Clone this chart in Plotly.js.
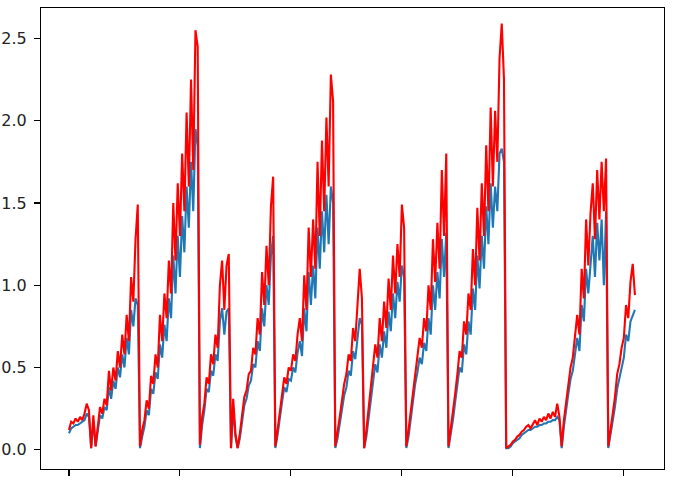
<!DOCTYPE html>
<html>
<head>
<meta charset="utf-8">
<script src="https://cdn.plot.ly/plotly-3.0.1.min.js"></script>
<style>html,body{margin:0;padding:0;background:#fff;}#chart{width:680px;height:480px;}</style>
</head>
<body>
<div id="chart"></div>
<script>
// Series values, one per sample (sample index is the x value)
const blueSeries = [
  // 0-31
  0.10,0.13,0.14,0.15,0.15,0.16,0.17,0.18,0.22,0.20,
  0.01,0.17,0.02,0.11,0.21,0.19,0.26,0.24,0.38,0.31,
  0.42,0.37,0.50,0.44,0.58,0.50,0.68,0.58,0.85,0.75,
  0.92,0.88,
  // 32-58
  0.01,0.08,0.14,0.24,0.21,0.37,0.34,0.47,0.43,0.64,
  0.56,0.76,0.66,0.92,0.80,1.18,0.95,1.30,1.05,1.42,
  1.20,1.60,1.35,1.75,1.45,1.95,1.85,
  // 59-75
  0.01,0.15,0.24,0.37,0.35,0.48,0.45,0.58,0.54,0.78,0.86,0.70,0.84,0.86,
  0.01,0.25,0.08,
  // 76-92
  0.01,0.07,0.18,0.27,0.31,0.39,0.42,0.52,0.50,0.66,0.60,0.86,0.75,1.00,0.88,1.18,1.30,
  // 93-119
  0.01,0.09,0.20,0.29,0.38,0.35,0.43,0.42,0.50,0.47,0.59,0.66,0.57,0.86,0.72,1.08,0.88,1.12,0.92,1.35,
  1.10,1.45,1.20,1.55,1.25,1.60,1.50,
  // 120-132
  0.01,0.07,0.16,0.25,0.33,0.38,0.48,0.45,0.60,0.55,0.70,0.80,0.76,
  // 133-151
  0.01,0.08,0.20,0.31,0.41,0.52,0.47,0.64,0.56,0.72,0.62,0.84,0.72,0.95,0.80,1.02,0.90,1.12,1.05,
  // 152-170
  0.01,0.08,0.19,0.30,0.40,0.47,0.56,0.52,0.65,0.60,0.80,0.70,1.00,0.85,1.08,0.92,1.28,1.05,1.32,
  // 171-196
  0.01,0.09,0.18,0.29,0.39,0.50,0.47,0.64,0.58,0.78,0.70,0.98,0.85,1.18,0.98,1.30,1.10,1.48,1.25,1.62,
  1.35,1.60,1.45,1.80,1.83,1.75,
  // 197-221
  0.01,0.01,0.02,0.04,0.05,0.06,0.07,0.09,0.10,0.11,0.12,0.12,0.13,0.14,0.14,0.15,0.15,0.16,0.16,0.17,
  0.17,0.18,0.18,0.20,0.18,
  // 222-242
  0.01,0.14,0.25,0.34,0.43,0.48,0.58,0.68,0.60,0.88,0.78,1.10,0.95,1.15,1.30,1.05,1.38,1.15,1.40,1.00,
  1.45,
  // 243-255
  0.01,0.09,0.17,0.26,0.37,0.43,0.51,0.56,0.70,0.66,0.78,0.82,0.85
];
const redSeries = [
  // 0-31
  0.12,0.17,0.16,0.19,0.17,0.20,0.18,0.22,0.28,0.24,
  0.01,0.21,0.02,0.14,0.26,0.22,0.31,0.27,0.48,0.36,
  0.50,0.42,0.60,0.50,0.70,0.58,0.82,0.66,1.05,0.90,
  1.28,1.49,
  // 32-58
  0.02,0.12,0.18,0.30,0.25,0.45,0.40,0.58,0.50,0.82,
  0.66,0.95,0.80,1.15,0.95,1.50,1.15,1.62,1.30,1.80,
  1.45,2.05,1.60,2.25,1.70,2.55,2.45,
  // 59-75
  0.03,0.20,0.28,0.44,0.40,0.58,0.52,0.70,0.62,1.00,1.15,0.85,1.12,1.19,
  0.01,0.31,0.10,
  // 76-92
  0.01,0.10,0.22,0.32,0.36,0.46,0.48,0.62,0.58,0.80,0.70,1.08,0.88,1.24,1.00,1.48,1.66,
  // 93-119
  0.02,0.12,0.24,0.34,0.44,0.40,0.50,0.48,0.58,0.54,0.70,0.80,0.66,1.06,0.85,1.35,1.05,1.40,1.10,1.75,
  1.30,1.88,1.45,2.02,1.60,2.28,2.12,
  // 120-132
  0.02,0.10,0.20,0.30,0.40,0.46,0.58,0.54,0.74,0.66,0.88,1.10,0.92,
  // 133-151
  0.01,0.12,0.25,0.38,0.50,0.64,0.56,0.80,0.66,0.90,0.74,1.04,0.85,1.18,0.95,1.25,1.05,1.49,1.35,
  // 152-170
  0.02,0.12,0.24,0.36,0.48,0.56,0.68,0.62,0.80,0.72,1.00,0.85,1.28,1.02,1.38,1.10,1.70,1.30,1.80,
  // 171-196
  0.02,0.12,0.22,0.34,0.46,0.60,0.56,0.78,0.70,0.95,0.85,1.22,1.00,1.47,1.15,1.62,1.30,1.85,1.45,2.08,
  1.60,2.06,1.75,2.38,2.59,2.25,
  // 197-221
  0.01,0.02,0.03,0.05,0.06,0.08,0.09,0.11,0.12,0.14,0.15,0.13,0.16,0.18,0.15,0.19,0.17,0.20,0.18,0.22,
  0.19,0.23,0.20,0.28,0.20,
  // 222-242
  0.02,0.18,0.30,0.40,0.50,0.56,0.68,0.82,0.70,1.10,0.92,1.40,1.12,1.44,1.62,1.28,1.70,1.40,1.75,1.45,
  1.77,
  // 243-255
  0.02,0.12,0.22,0.32,0.46,0.52,0.62,0.68,0.88,0.80,1.02,1.13,0.94
];
const xTickValues = [0, 50, 100, 150, 200, 250];
const yTickValues = [0.0, 0.5, 1.0, 1.5, 2.0, 2.5];

const sampleIndex = redSeries.map((_, i) => i);

const traces = [
  {x: sampleIndex, y: blueSeries, type: 'scatter', mode: 'lines',
   line: {color: '#1f77b4', width: 2.1}, hoverinfo: 'skip'},
  {x: sampleIndex, y: redSeries, type: 'scatter', mode: 'lines',
   line: {color: '#ff0000', width: 2.1}, hoverinfo: 'skip'}
];

const axisCommon = {
  showline: true, mirror: true, linecolor: '#000', linewidth: 1.1,
  showgrid: false, zeroline: false,
  ticks: 'outside', ticklen: 6, tickwidth: 1.1, tickcolor: '#000'
};

const layout = {
  width: 680, height: 480,
  margin: {l: 41, r: 16, t: 8, b: 11, pad: 0},
  paper_bgcolor: '#fff', plot_bgcolor: '#fff',
  showlegend: false,
  font: {family: 'DejaVu Sans', size: 16, color: '#000'},
  xaxis: Object.assign({}, axisCommon, {
    range: [-12.6, 268.1], tickmode: 'array', tickvals: xTickValues,
    showticklabels: false
  }),
  yaxis: Object.assign({}, axisCommon, {
    range: [-0.117, 2.685], tickmode: 'array', tickvals: yTickValues,
    tickformat: '.1f', ticklabelstandoff: 4,
    tickfont: {family: 'DejaVu Sans', size: 16, color: '#222'}
  })
};

Plotly.newPlot('chart', traces, layout, {staticPlot: true, displayModeBar: false});
</script>
</body>
</html>
